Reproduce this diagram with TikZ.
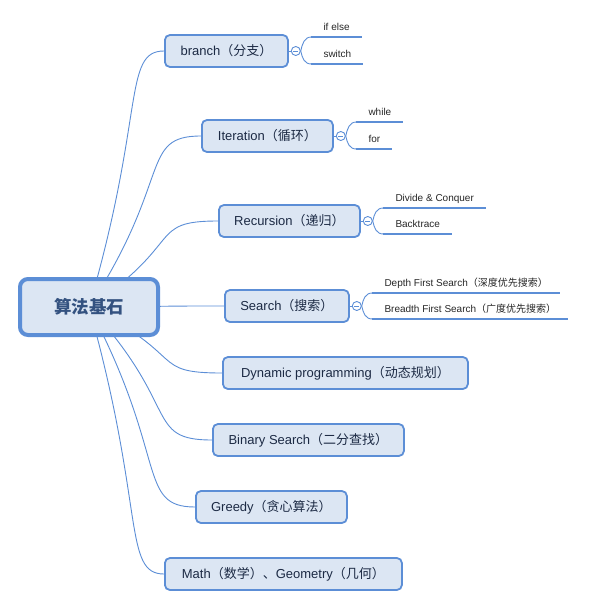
\documentclass[tikz,border=0pt]{standalone}
\usepackage{fontspec}
\setmainfont{Liberation Sans}
\newfontfamily\cjk{Noto Sans CJK SC}
\usetikzlibrary{calc,backgrounds}

\definecolor{edge}{RGB}{92,142,214}
\definecolor{boxfill}{RGB}{220,230,243}
\definecolor{ink}{RGB}{28,42,68}
\definecolor{rootink}{RGB}{52,82,128}
\newcommand{\zh}[1]{{\cjk #1}}

\begin{document}
\begin{tikzpicture}[x=1pt, y=-1pt,
    central/.style={draw=edge, line width=4pt, fill=boxfill, rounded corners=8pt,
        minimum width=138pt, minimum height=56pt, text=rootink,
        font=\fontsize{17.5}{20}\selectfont},
    topic/.style={draw=edge, line width=1.8pt, fill=boxfill, rounded corners=5pt,
        minimum height=32pt, anchor=west, text=ink, inner xsep=0pt,
        font=\fontsize{13}{15}\selectfont},
    link/.style={draw=edge, line width=0.9pt},
    fold/.style={circle, draw=edge, line width=0.9pt, fill=white,
        minimum size=9pt, inner sep=0pt,
        path picture={\draw[edge, line width=0.8pt]
            ($(path picture bounding box.center)+(-2.5,0)$) -- +(5,0);}},
    leaf/.style={anchor=south west, inner xsep=12pt, inner ysep=3.5pt,
        text depth=2.5pt, text=black!85, font=\fontsize{10}{12}\selectfont},
    uline/.style={draw=edge, line width=2.8pt}]

        \useasboundingbox (0,0) rectangle (593,608);

        % root and main topics
        \node[central] (root) at (89,307) {\zh{\bfseries 算法基石}};

        \node[topic, minimum width=123pt] (br) at (164,51) {branch\zh{（分支）}};
        \node[topic, minimum width=131pt] (it) at (201,136) {Iteration\zh{（循环）}};
        \node[topic, minimum width=141pt] (re) at (218,221) {Recursion\zh{（递归）}};
        \node[topic, minimum width=124pt] (se) at (224,306) {Search\zh{（搜索）}};
        \node[topic, minimum width=245pt] (dp) at (222,373)
        {Dynamic programming\zh{（动态规划）}};
        \node[topic, minimum width=191pt] (bs) at (212,440)
        {Binary Search\zh{（二分查找）}};
        \node[topic, minimum width=151pt] (gr) at (195,507)
        {Greedy\zh{（贪心算法）}};
        \node[topic, minimum width=237pt] (ma) at (164,574)
        {Math\zh{（数学）、}Geometry\zh{（几何）}};

        % connectors behind the boxes
        \begin{scope}[on background layer]
            \foreach \t in {br,it,re,se,dp,bs,gr,ma}{
                \coordinate (c1) at ($(root.center)!.75!(\t.west)$);
                \coordinate (c2) at ($(root.center)!.45!(\t.west)$);
                \draw[link] (root.center) .. controls (c1) and (c2 |- \t.west) .. (\t.west);
            }
        \end{scope}

        % fold markers
        \node[fold] (brf) at ($(br.east)+(7,0)$) {};
        \node[fold] (itf) at ($(it.east)+(7,0)$) {};
        \node[fold] (ref) at ($(re.east)+(7,0)$) {};
        \node[fold] (sef) at ($(se.east)+(7,0)$) {};

        % sub topics
        \node[leaf] (br1) at ($(brf.center)+(15.5,-14)$) {if else};
        \node[leaf] (br2) at ($(brf.center)+(15.5,13)$) {switch};
        \node[leaf] (it1) at ($(itf.center)+(15.5,-14)$) {while};
        \node[leaf] (it2) at ($(itf.center)+(15.5,13)$) {for};
        \node[leaf] (re1) at ($(ref.center)+(15.5,-13)$) {Divide \& Conquer};
        \node[leaf] (re2) at ($(ref.center)+(15.5,13)$) {Backtrace};
        \node[leaf] (se1) at ($(sef.center)+(15.5,-13)$)
        {Depth First Search\zh{（深度优先搜索）}};
        \node[leaf] (se2) at ($(sef.center)+(15.5,13)$)
        {Breadth First Search\zh{（广度优先搜索）}};

        \foreach \t in {br,it,re,se}
            \draw[link] (\t.east) -- (\t f.west);

        \foreach \f/\l/\d in {brf/br1/-7, brf/br2/7, itf/it1/-7, itf/it2/7,
                              ref/re1/-7, ref/re2/7, sef/se1/-7, sef/se2/7}{
            \draw[link] (\f.east) .. controls +(1.5,\d) and +(-7,0) .. (\l.south west);
            \draw[uline] (\l.south west) -- (\l.south east);
        }

\end{tikzpicture}
\end{document}
